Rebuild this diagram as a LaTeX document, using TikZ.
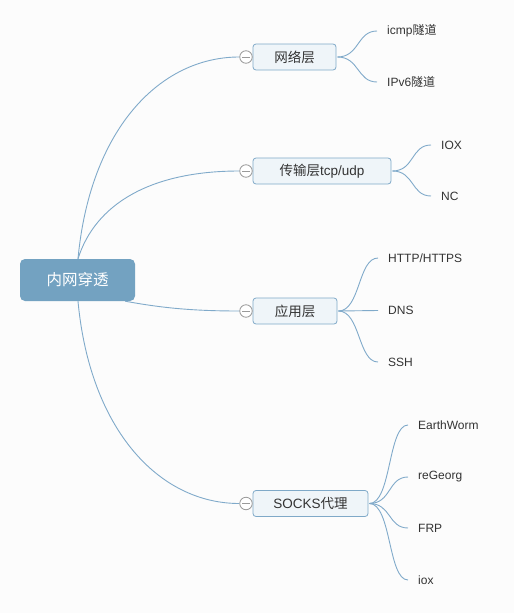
\documentclass[tikz,border=0pt]{standalone}
\usepackage{fontspec}
\setmainfont{Liberation Sans}
\newfontfamily\cjk{Noto Sans CJK SC}
\usetikzlibrary{calc}
\definecolor{bgc}{HTML}{FCFCFC}
\definecolor{rootc}{HTML}{73A2C1}
\definecolor{linec}{HTML}{80AACA}
\definecolor{boxfill}{HTML}{EFF5F9}
\definecolor{boxline}{HTML}{7FA9C8}
\definecolor{txtc}{HTML}{333333}
\definecolor{circc}{HTML}{9A9A9A}
\tikzset{
  rootbox/.style={rectangle, rounded corners=5pt, fill=rootc, text=white, minimum width=115pt, minimum height=42pt, inner sep=0pt, font=\cjk\fontsize{15.5}{18}\selectfont},
  branchbox/.style={rectangle, rounded corners=3pt, draw=boxline, line width=0.8pt, fill=boxfill, text=txtc, minimum height=26pt, inner sep=0pt, font=\fontsize{13.5}{16}\selectfont},
  leaf/.style={anchor=west, inner xsep=0pt, text=txtc, font=\fontsize{12}{14}\selectfont},
  collapse/.style={circle, draw=circc, fill=white, line width=0.8pt, minimum size=12.5pt, inner sep=0pt},
  mainline/.style={draw=linec, line width=0.9pt},
  subline/.style={draw=linec, line width=0.9pt},
  minusmark/.style={draw=circc, line width=0.8pt}
}
\begin{document}
\begin{tikzpicture}[x=1pt,y=-1pt]
\useasboundingbox[fill=bgc] (0,0) rectangle (514,613);

% root
\node[rootbox] (root) at (77.5,280) {内网穿透};

% branch boxes
\node[branchbox, minimum width=83pt] (b1) at (294.5,57) {\cjk 网络层};
\node[branchbox, minimum width=138pt] (b2) at (322,171) {{\cjk 传输层}tcp/udp};
\node[branchbox, minimum width=84pt] (b3) at (295,311) {\cjk 应用层};
\node[branchbox, minimum width=115pt] (b4) at (310.5,503.5) {SOCKS{\cjk 代理}};

% collapse circles
\node[collapse] (c1) at (246,57) {};
\node[collapse] (c2) at (246,171) {};
\node[collapse] (c3) at (246,311) {};
\node[collapse] (c4) at (246,503.5) {};
\foreach \c in {c1,c2,c3,c4}{
  \draw[minusmark] ([xshift=-4pt]\c.center) -- ([xshift=4pt]\c.center);
}

% root to branches
\draw[mainline] ([xshift=0.5pt]root.north) .. controls +(12,-129) and +(-80,0) .. (c1.west);
\draw[mainline] ([xshift=0.5pt]root.north) .. controls +(17,-54) and +(-90,0) .. (c2.west);
\draw[mainline] ($(root.south east)+(-10,0)$) .. controls +(38,7) and +(-45,0) .. (c3.west);
\draw[mainline] ([xshift=0.5pt]root.south) .. controls +(12,129) and +(-80,0) .. (c4.west);

% leaves
\node[leaf] (l11) at (387,31) {icmp{\cjk 隧道}};
\node[leaf] (l12) at (387,82) {IPv6{\cjk 隧道}};
\node[leaf] (l21) at (441,145) {IOX};
\node[leaf] (l22) at (441,196) {NC};
\node[leaf] (l31) at (388,258) {HTTP/HTTPS};
\node[leaf] (l32) at (388,310.5) {DNS};
\node[leaf] (l33) at (388,362) {SSH};
\node[leaf] (l41) at (418,425) {EarthWorm};
\node[leaf] (l42) at (418,477) {reGeorg};
\node[leaf] (l43) at (418,528) {FRP};
\node[leaf] (l44) at (418,580) {iox};

% branch to leaves
\foreach \l in {l11,l12}{
  \draw[subline] ([xshift=1pt]b1.east) .. controls +(22,0) and +(-20,0) .. ([xshift=-10pt]\l.west);
}
\foreach \l in {l21,l22}{
  \draw[subline] ([xshift=1pt]b2.east) .. controls +(22,0) and +(-20,0) .. ([xshift=-10pt]\l.west);
}
\foreach \l in {l31,l33}{
  \draw[subline] ([xshift=1pt]b3.east) .. controls +(22,0) and +(-20,0) .. ([xshift=-10pt]\l.west);
}
\draw[subline] ([xshift=1pt]b3.east) -- ([xshift=-10pt]l32.west);
\foreach \l in {l41,l42,l43,l44}{
  \draw[subline] ([xshift=1pt]b4.east) .. controls +(22,0) and +(-20,0) .. ([xshift=-10pt]\l.west);
}
\end{tikzpicture}
\end{document}
